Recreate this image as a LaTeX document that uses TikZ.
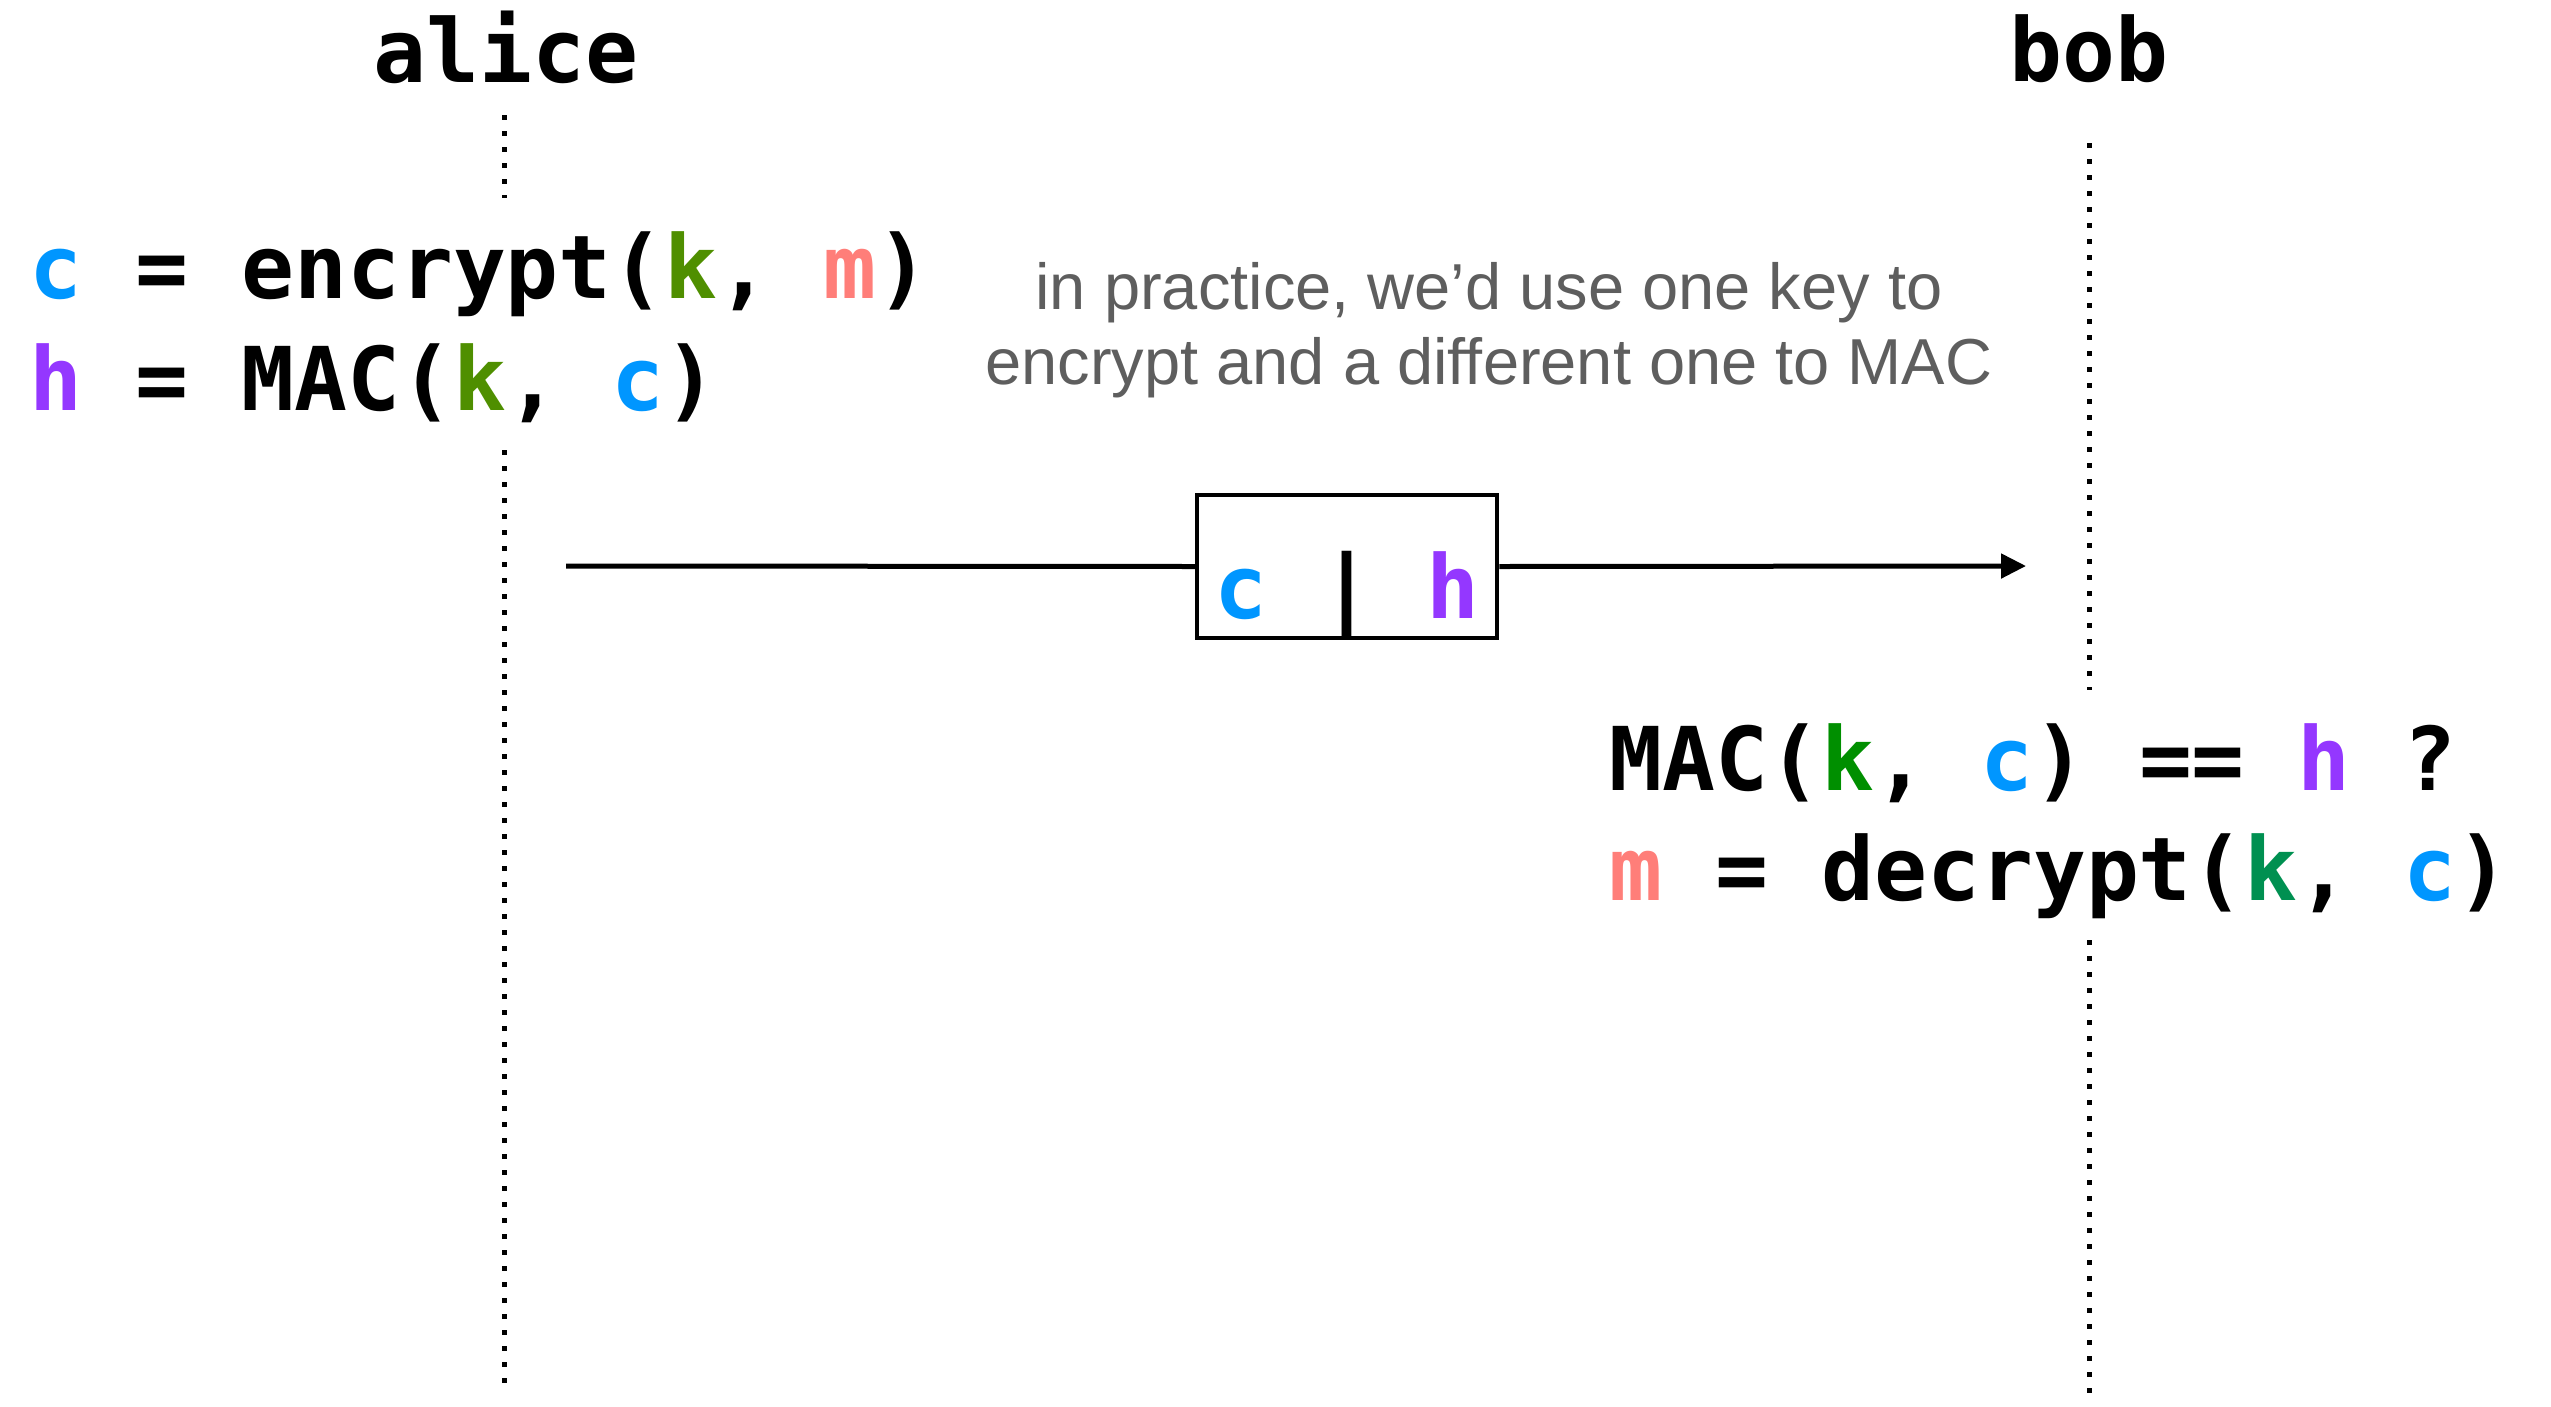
\documentclass[tikz,border=0pt]{standalone}
\usepackage{fontspec}
\usetikzlibrary{arrows.meta}
\newfontfamily\codefont{DejaVu Sans Mono}
\newfontfamily\notefont{Liberation Sans}
\definecolor{cblue}{HTML}{0096FF}
\definecolor{hpurple}{HTML}{9437FF}
\definecolor{kfern}{HTML}{4F8F00}
\definecolor{kclover}{HTML}{008F00}
\definecolor{kmoss}{HTML}{009051}
\definecolor{msalmon}{HTML}{FF7E79}
\definecolor{notegray}{HTML}{5E5E5E}
\newcommand{\cc}{\textcolor{cblue}{c}}
\newcommand{\hh}{\textcolor{hpurple}{h}}
\newcommand{\mm}{\textcolor{msalmon}{m}}
\begin{document}
\begin{tikzpicture}[x=1pt,y=-1pt,
  code/.style={anchor=base west, inner sep=0pt, font=\codefont\bfseries\fontsize{88}{110}\selectfont},
  actor/.style={anchor=base, inner sep=0pt, font=\codefont\bfseries\fontsize{88}{110}\selectfont},
  note/.style={anchor=base, inner sep=0pt, text=notegray, font=\notefont\fontsize{65}{75}\selectfont},
  life/.style={line width=5pt, dash pattern=on 5pt off 11pt},
  msgline/.style={line width=5pt},
  msgbox/.style={draw, line width=4.5pt, anchor=base, inner sep=0pt, minimum width=300pt,
    text height=123pt, text depth=20pt, font=\codefont\bfseries\fontsize{88}{110}\selectfont}]
\useasboundingbox (0,0) rectangle (2551,1406);
% lifeline coordinates
\coordinate (aT1) at (504,115);
\coordinate (aB1) at (504,198);
\coordinate (aT2) at (504,450);
\coordinate (aB2) at (504,1383);
\coordinate (bT1) at (2089,143);
\coordinate (bB1) at (2089,690);
\coordinate (bT2) at (2089,940);
\coordinate (bB2) at (2089,1402);
\draw[life] (aT1) -- (aB1);
\draw[life] (aT2) -- (aB2);
\draw[life] (bT1) -- (bB1);
\draw[life] (bT2) -- (bB2);
% actors
\node[actor] (alice) at (506,82) {alice};
\node[actor] (bob) at (2089,81) {bob};
% alice code
\node[code] (enc) at (29,298) {\cc{} = encrypt(\textcolor{kfern}{k}, \mm)};
\node[code] (mac) at (29,410) {\hh{} = MAC(\textcolor{kfern}{k}, \cc)};
% note
\node[note] (note1) at (1489,309) {in practice, we’d use one key to};
\node[note] (note2) at (1489,384) {encrypt and a different one to MAC};
% message
\coordinate (mStart) at (566,566);
\coordinate (mEnd) at (2026,566);
\node[msgbox] (msg) at (1347,618) {\cc{} | \hh};
\draw[msgline] (mStart) -- (msg.west);
\draw[msgline,-{Triangle[length=25pt,width=24pt]}] (msg.east) -- (mEnd);
% bob code
\node[code] (check) at (1609,790) {MAC(\textcolor{kclover}{k}, \cc) == \hh{} ?};
\node[code] (dec) at (1609,900) {\mm{} = decrypt(\textcolor{kmoss}{k}, \cc)};
\end{tikzpicture}
\end{document}
